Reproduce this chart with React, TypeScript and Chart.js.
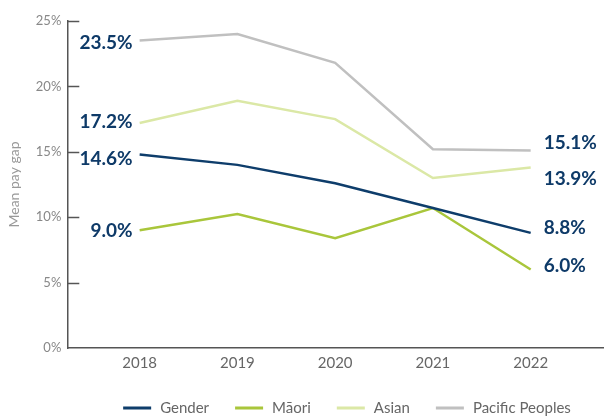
import React, { useEffect, useRef } from "react";
import { Chart, registerables } from "chart.js";

Chart.register(...registerables);

const years = [2018, 2019, 2020, 2021, 2022];
const seriesNames = ["Gender", "Māori", "Asian", "Pacific Peoples"];
const gender = [14.8, 14.0, 12.6, 10.7, 8.8];
const maori = [9.0, 10.25, 8.4, 10.7, 6.0];
const asian = [17.2, 18.9, 17.5, 13.0, 13.8];
const pacific = [23.5, 24.0, 21.8, 15.2, 15.1];
const startLabels = ["14.6%", "9.0%", "17.2%", "23.5%"];
const endLabels = ["8.8%", "6.0%", "13.9%", "15.1%"];
const yTicks = [0, 5, 10, 15, 20, 25];

const colors = ["#0e3d6b", "#a9c63b", "#dbe8a6", "#c0c0c0"];
const labelColor = "#0e3a68";
const startDy = [4, 1, -1, 2];
const endDy = [-5, -4, 11, -8];

const FONT = "Lato, 'Open Sans', sans-serif";

const insideTicks = {
  id: "insideTicks",
  afterDraw(chart: any) {
    const { ctx, chartArea, scales } = chart;
    const y = scales.y;
    ctx.save();
    ctx.strokeStyle = "#555";
    ctx.lineWidth = 1.5;
    y.ticks.forEach((t: any) => {
      if (t.value === 0) return;
      const py = Math.round(y.getPixelForValue(t.value)) + 0.5;
      ctx.beginPath();
      ctx.moveTo(chartArea.left, py);
      ctx.lineTo(chartArea.left + 12, py);
      ctx.stroke();
    });
    ctx.restore();
  },
};

const endValueLabels = {
  id: "endValueLabels",
  afterDatasetsDraw(chart: any) {
    const { ctx } = chart;
    ctx.save();
    ctx.font = `bold 19px ${FONT}`;
    ctx.fillStyle = labelColor;
    ctx.textBaseline = "middle";
    chart.data.datasets.forEach((ds: any, i: number) => {
      const meta = chart.getDatasetMeta(i);
      const first = meta.data[0];
      const last = meta.data[meta.data.length - 1];
      ctx.textAlign = "right";
      ctx.fillText(startLabels[i], first.x - 7, first.y + startDy[i]);
      ctx.textAlign = "left";
      ctx.fillText(endLabels[i], last.x + 13, last.y + endDy[i]);
    });
    ctx.restore();
  },
};

const bottomLegend = {
  id: "bottomLegend",
  afterDraw(chart: any) {
    const { ctx } = chart;
    const datasets = chart.data.datasets;
    ctx.save();
    ctx.font = `15px ${FONT}`;
    const sw = 28, gapText = 9, gapItem = 26;
    const widths = datasets.map((d: any) => ctx.measureText(d.label).width);
    const total =
      widths.reduce((a: number, w: number) => a + sw + gapText + w, 0) +
      gapItem * (datasets.length - 1);
    let x = 347 - total / 2;
    const y = 408;
    ctx.textBaseline = "middle";
    ctx.textAlign = "left";
    datasets.forEach((d: any, i: number) => {
      ctx.fillStyle = d.borderColor;
      ctx.fillRect(x, y - 1.5, sw, 3);
      ctx.fillStyle = "#666";
      ctx.fillText(d.label, x + sw + gapText, y);
      x += sw + gapText + widths[i] + gapItem;
    });
    ctx.restore();
  },
};

export default function App() {
  const ref = useRef<HTMLCanvasElement | null>(null);

  useEffect(() => {
    document.body.style.margin = "0";
    const seriesData = [gender, maori, asian, pacific];
    const chart = new Chart(ref.current!, {
      type: "line",
      data: {
        datasets: seriesNames.map((name, i) => ({
          label: name,
          data: years.map((yr, j) => ({ x: yr, y: seriesData[i][j] })),
          borderColor: colors[i],
          backgroundColor: colors[i],
          borderWidth: 2.5,
          pointRadius: 0,
          tension: 0,
        })),
      },
      options: {
        responsive: false,
        animation: false,
        layout: { padding: { top: 21, right: 0, left: 4, bottom: 39 } },
        plugins: {
          tooltip: { enabled: false },
          legend: { display: false },
        },
        scales: {
          x: {
            type: "linear",
            min: 2017.26,
            max: 2022.75,
            afterBuildTicks: (scale: any) => {
              scale.ticks = years.map((v) => ({ value: v }));
            },
            grid: { display: false, drawTicks: false },
            border: { display: true, color: "#555", width: 1.5 },
            ticks: {
              color: "#666",
              font: { family: FONT, size: 15 },
              padding: 6,
              callback: (v: any) => String(v),
            },
          },
          y: {
            min: 0,
            max: 25,
            afterBuildTicks: (scale: any) => {
              scale.ticks = yTicks.map((v) => ({ value: v }));
            },
            grid: { display: false, drawTicks: false },
            border: { display: true, color: "#555", width: 1.5 },
            title: {
              display: true,
              text: "Mean pay gap",
              color: "#999",
              font: { family: FONT, size: 14 },
              padding: { top: 2, bottom: 7 },
            },
            ticks: {
              color: "#888",
              font: { family: FONT, size: 13 },
              padding: 6,
              callback: (v: any) => v + "%",
            },
          },
        },
      },
      plugins: [insideTicks, endValueLabels, bottomLegend],
    });
    return () => chart.destroy();
  }, []);

  return (
    <div style={{ width: 604, height: 417 }}>
      <canvas ref={ref} width={604} height={417} />
    </div>
  );
}
